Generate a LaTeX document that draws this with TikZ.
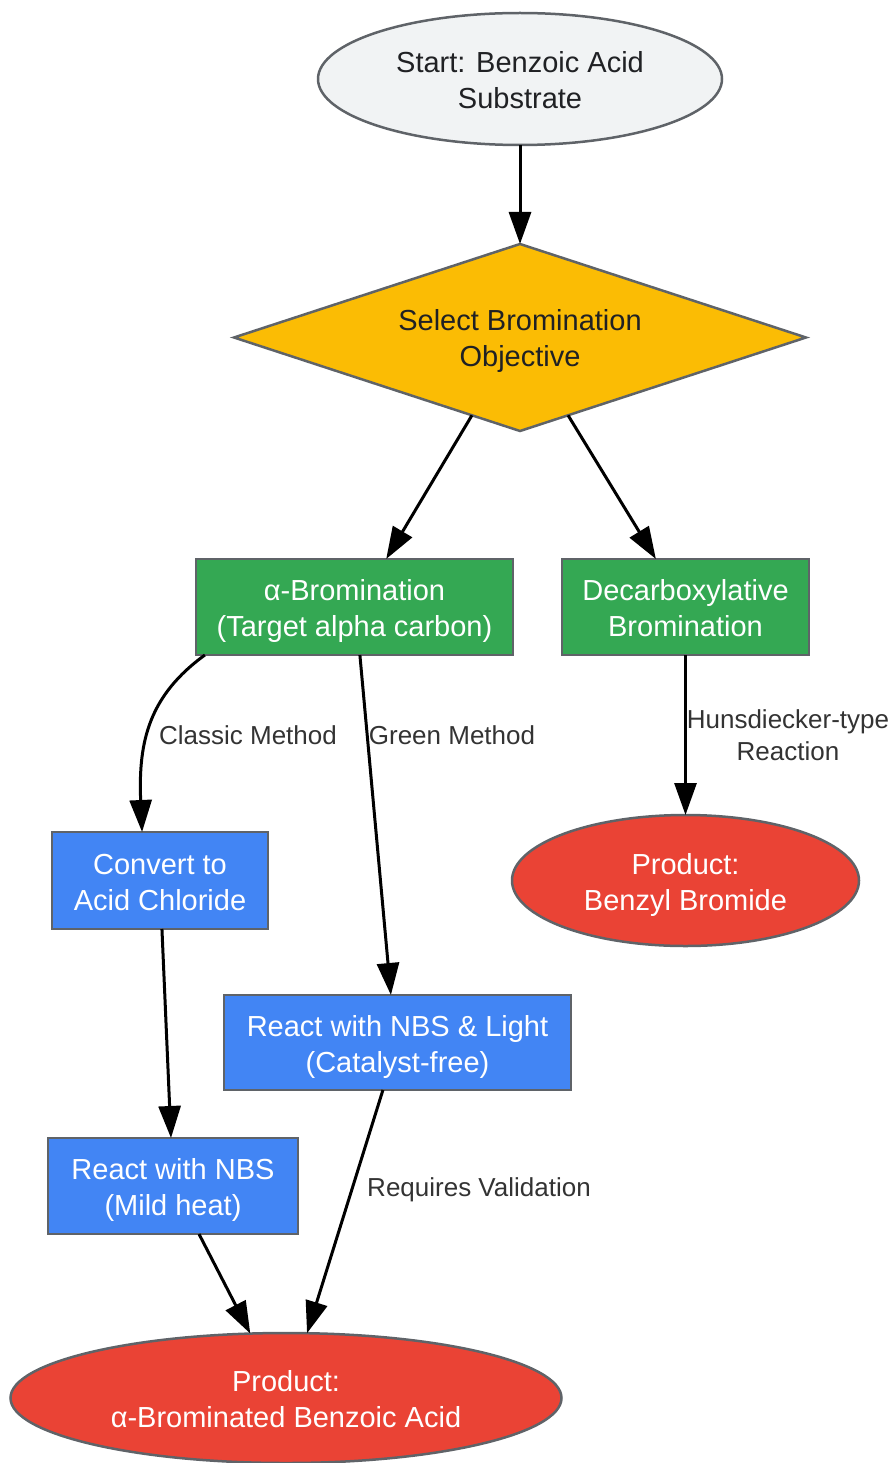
\documentclass[tikz,border=0pt]{standalone}
\usepackage{fontspec}
\setmainfont{Liberation Sans}
\usetikzlibrary{shapes.geometric,arrows.meta,calc}
\definecolor{bd}{HTML}{5F6368}
\definecolor{grayfill}{HTML}{F1F3F4}
\definecolor{amber}{HTML}{FBBC04}
\definecolor{gr}{HTML}{34A853}
\definecolor{rd}{HTML}{EA4335}
\definecolor{bl}{HTML}{4285F4}
\definecolor{txt}{HTML}{333333}
\definecolor{dk}{HTML}{202124}
\newcommand\mytop{\rule{0pt}{29pt}}
\newcommand\mybot{\rule[-6pt]{0pt}{6pt}}
\begin{document}
\begin{tikzpicture}[x=1pt,y=-1pt,
  base/.style={draw=bd, line width=2.5pt, font=\fontsize{29}{36}\selectfont, align=center, inner sep=0pt, outer sep=0pt},
  box/.style={base, rectangle, text=white},
  oval/.style={base, ellipse},
  conn/.style={line width=3pt, -{Triangle[length=32pt,width=22pt]}},
  lbl/.style={font=\fontsize{26}{32}\selectfont, text=txt, align=center, inner sep=0pt}
]
\useasboundingbox (0,0) rectangle (895,1463);

\node[oval, fill=grayfill, text=dk, minimum width=404pt, minimum height=132pt] (start) at (520,79) {\mytop Start: Benzoic Acid\\Substrate\mybot};
\node[base, diamond, aspect=3.06, fill=amber, text=dk, minimum width=572pt, minimum height=187pt] (dia) at (520,337.5) {\mytop Select Bromination\\Objective\mybot};
\node[box, fill=gr, minimum width=317pt, minimum height=96pt] (alpha) at (354.5,607) {\mytop α-Bromination\\(Target alpha carbon)\mybot};
\node[box, fill=gr, minimum width=247pt, minimum height=96pt] (decarb) at (685.5,607) {\mytop Decarboxylative\\Bromination\mybot};
\node[oval, fill=rd, text=white, minimum width=347pt, minimum height=131pt] (benzyl) at (685.5,880.5) {\mytop Product:\\Benzyl Bromide\mybot};
\node[box, fill=bl, minimum width=216pt, minimum height=97pt] (convert) at (160,880.5) {\mytop Convert to\\Acid Chloride\mybot};
\node[box, fill=bl, minimum width=347pt, minimum height=95pt] (nbsl) at (397.5,1042.5) {\mytop React with NBS \& Light\\(Catalyst-free)\mybot};
\node[box, fill=bl, minimum width=250pt, minimum height=96pt] (nbs) at (173,1186) {\mytop React with NBS\\(Mild heat)\mybot};
\node[oval, fill=rd, text=white, minimum width=551pt, minimum height=130pt] (prodA) at (286,1398) {\mytop Product:\\α-Brominated Benzoic Acid\mybot};

\draw[conn] (start.south) -- (dia.north);
\draw[conn] ($(dia.west)!0.832!(dia.south)$) -- ($(alpha.north west)!0.6!(alpha.north east)$);
\draw[conn] ($(dia.south)!0.168!(dia.east)$) -- ($(decarb.north west)!0.38!(decarb.north east)$);
\draw[conn] (decarb.south) -- (benzyl.north);
\draw[conn] ($(alpha.south west)!0.028!(alpha.south east)$) .. controls (150,695) and (138,740) .. ($(convert.north west)!0.417!(convert.north east)$);
\draw[conn] ($(alpha.south west)!0.517!(alpha.south east)$) -- ($(nbsl.north west)!0.481!(nbsl.north east)$);
\draw[conn] ($(convert.south west)!0.509!(convert.south east)$) -- ($(nbs.north west)!0.492!(nbs.north east)$);
\draw[conn] ($(nbsl.south west)!0.458!(nbsl.south east)$) -- (prodA.72);
\draw[conn] ($(nbs.south west)!0.604!(nbs.south east)$) -- (prodA.119);

\node[lbl] (l1) at (248,735) {Classic Method};
\node[lbl] (l2) at (452,735) {Green Method};
\node[lbl] (l3) at (788,735) {Hunsdiecker-type\\Reaction};
\node[lbl] (l4) at (479,1190) {Requires Validation};
\end{tikzpicture}
\end{document}
